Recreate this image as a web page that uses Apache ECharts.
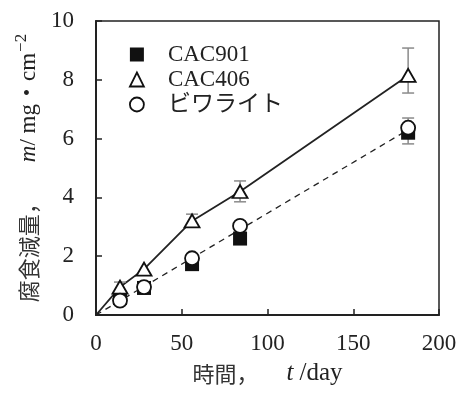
<!DOCTYPE html>
<html><head><meta charset="utf-8">
<script src="https://cdn.jsdelivr.net/npm/echarts@6/dist/echarts.min.js"></script>
<style>html,body{margin:0;padding:0;background:#fff}#c{width:464px;height:394px}</style>
</head><body><div id="c"></div>
<script>
const days = [14, 28, 56, 84, 182];
const cac901 = [0.58, 0.92, 1.73, 2.6, 6.2];
const cac406 = [0.95, 1.56, 3.2, 4.2, 8.15];
const biwa = [0.49, 0.95, 1.93, 3.03, 6.37];
const cac406Err = [[14, 0.8, 1.12], [56, 3.0, 3.43], [84, 3.85, 4.56], [182, 7.55, 9.08]];
const biwaErr = [[182, 5.82, 6.7]];
const fitLine = [[0, 0], [182, 6.3]];
const xTicks = [0, 50, 100, 150, 200];
const yTicks = [0, 2, 4, 6, 8, 10];

const serif = 'Liberation Serif';
const cjk = 'Noto Sans CJK JP';
const chart = echarts.init(document.getElementById('c'));
const pair = (xs, ys) => xs.map((x, i) => [x, ys[i]]);

function errRender(params, api) {
  const x = api.value(0), lo = api.value(1), hi = api.value(2);
  const p1 = api.coord([x, hi]), p2 = api.coord([x, lo]);
  const w = 6;
  const st = {stroke: '#8a8a8a', lineWidth: 1.5};
  return {type: 'group', children: [
    {type: 'line', shape: {x1: p1[0], y1: p1[1], x2: p2[0], y2: p2[1]}, style: st},
    {type: 'line', shape: {x1: p1[0]-w, y1: p1[1], x2: p1[0]+w, y2: p1[1]}, style: st},
    {type: 'line', shape: {x1: p2[0]-w, y1: p2[1], x2: p2[0]+w, y2: p2[1]}, style: st}
  ]};
}

chart.setOption({
  animation: false,
  backgroundColor: '#fff',
  grid: {left: 96, right: 25, top: 21, bottom: 79, show: true, borderColor: '#222', borderWidth: 1.5},
  legend: {
    left: 124, top: 38, orient: 'vertical', itemGap: 2, itemWidth: 14, itemHeight: 14,
    data: [
      {name: 'CAC901', icon: 'rect', itemStyle: {color: '#111', borderWidth: 0}},
      {name: 'CAC406', icon: 'triangle', itemStyle: {color: '#fff', borderColor: '#111', borderWidth: 1.8}},
      {name: 'ビワライト', icon: 'circle', itemStyle: {color: '#fff', borderColor: '#111', borderWidth: 1.8}}
    ],
    textStyle: {fontFamily: serif + ',' + cjk, fontSize: 23, color: '#222', padding: [0, 0, 0, 19]}
  },
  xAxis: {
    type: 'value', min: 0, max: 200, interval: 50,
    axisLine: {show: true, lineStyle: {color: '#222', width: 2}},
    axisTick: {show: true, inside: true, length: 6, lineStyle: {color: '#222', width: 1.5}},
    splitLine: {show: false},
    axisLabel: {fontFamily: serif, fontSize: 23, color: '#222', margin: 17,
      customValues: xTicks},
    name: '{cj|時間，}{sp| }{it|t}{n| /day}',
    nameLocation: 'middle', nameGap: 46,
    nameTextStyle: {rich: {
      cj: {fontFamily: cjk, fontSize: 22, color: '#333'},
      sp: {fontSize: 22, width: 28},
      it: {fontFamily: serif, fontStyle: 'italic', fontSize: 25, color: '#222'},
      n: {fontFamily: serif, fontSize: 25, color: '#222'}
    }}
  },
  yAxis: {
    type: 'value', min: 0, max: 10, interval: 2,
    axisLine: {show: true, lineStyle: {color: '#222', width: 2}},
    axisTick: {show: true, inside: true, length: 6, lineStyle: {color: '#222', width: 1.5}},
    splitLine: {show: false},
    axisLabel: {fontFamily: serif, fontSize: 23, color: '#222', margin: 22, customValues: yTicks},
    name: '{cj|腐食減量，}{sp| }{it|m}{n|/ mg・cm}{sup|−2}',
    nameLocation: 'middle', nameGap: 47, nameRotate: 90,
    nameTextStyle: {rich: {
      cj: {fontFamily: cjk, fontSize: 22, color: '#333'},
      sp: {fontSize: 22, width: 30},
      it: {fontFamily: serif, fontStyle: 'italic', fontSize: 23, color: '#222'},
      n: {fontFamily: serif + ',' + cjk, fontSize: 23, color: '#222'},
      sup: {fontFamily: serif, fontSize: 17, color: '#222', padding: [0, 0, 14, 1]}
    }}
  },
  series: [
    {type: 'line', name: 'fit', data: fitLine, showSymbol: false, symbol: 'none', z: 2,
      lineStyle: {color: '#222', width: 1.3, type: [6, 5]}},
    {type: 'line', name: 'line406', data: [[0, 0]].concat(pair(days, cac406)), symbol: 'none', z: 2,
      lineStyle: {color: '#222', width: 1.8}},
    {type: 'custom', name: 'err406', renderItem: errRender, data: cac406Err, z: 3},
    {type: 'custom', name: 'errBiwa', renderItem: errRender, data: biwaErr, z: 3},
    {type: 'scatter', name: 'CAC901', data: pair(days, cac901), symbol: 'rect', symbolSize: 14, z: 4,
      itemStyle: {color: '#111', opacity: 1}},
    {type: 'scatter', name: 'CAC406', data: pair(days, cac406), symbol: 'triangle', symbolSize: [15, 13], z: 5,
      itemStyle: {color: '#fff', borderColor: '#111', borderWidth: 1.8, opacity: 1}},
    {type: 'scatter', name: 'ビワライト', data: pair(days, biwa), symbol: 'circle', symbolSize: 14, z: 6,
      itemStyle: {color: '#fff', borderColor: '#111', borderWidth: 1.8, opacity: 1}}
  ]
});
</script></body></html>
